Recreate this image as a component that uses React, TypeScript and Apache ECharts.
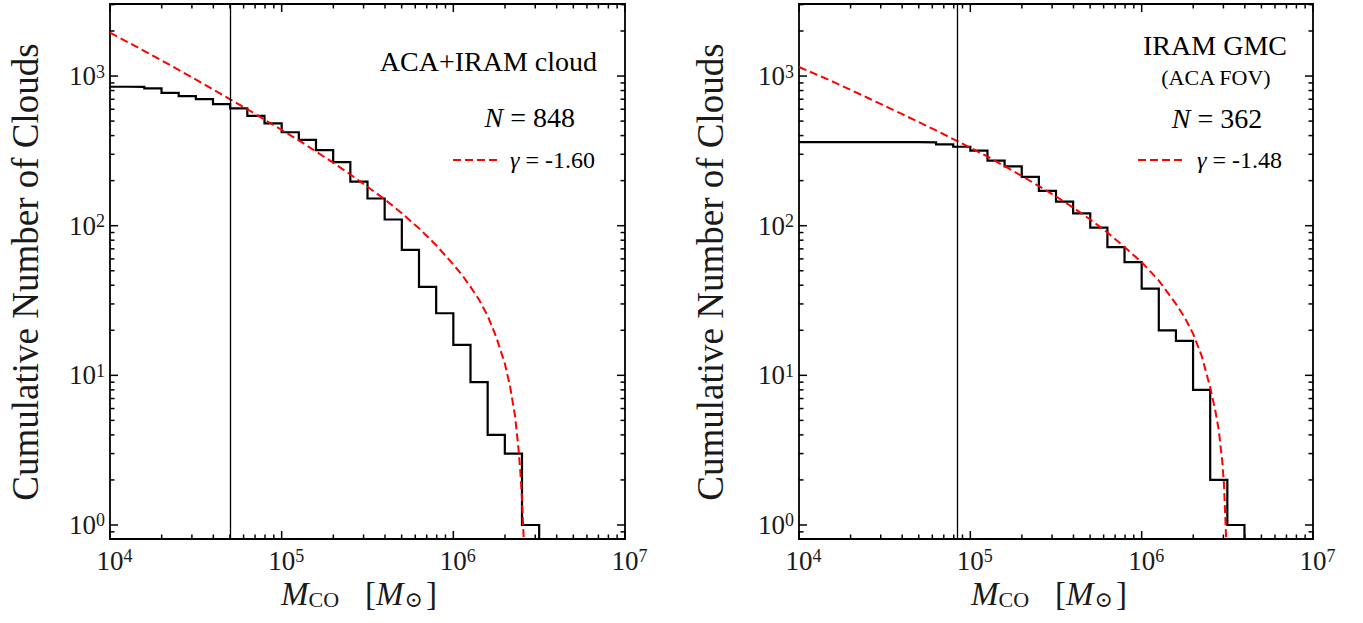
import React, { useEffect, useRef } from 'react';
import * as echarts from 'echarts';

const FONT = 'Liberation Serif, serif';
const SYMFONT = 'DejaVu Serif, DejaVu Sans, serif';
const TXT = '#1a1a1a';

// axis ranges
const xMin = 1e4;
const xMax = 1e7;
const yMin = 0.806;
const yMax = 3030;

// tick structure (decades)
const xMajorExp = [4, 5, 6, 7];
const yMajorExp = [0, 1, 2, 3];
const minorMult = [2, 3, 4, 5, 6, 7, 8, 9];

// Left panel: ACA+IRAM cloud, cumulative counts, bins of 0.1 dex (left edges, log10 M)
const leftBinLogM = [4.0, 4.1, 4.2, 4.3, 4.4, 4.5, 4.6, 4.7, 4.8, 4.9, 5.0, 5.1, 5.2, 5.3, 5.4, 5.5, 5.6, 5.7, 5.8, 5.9, 6.0, 6.1, 6.2, 6.3, 6.4];
const leftCounts = [848, 846, 828, 773, 735, 702, 650, 608, 541, 483, 421, 374, 320, 266, 197, 152, 110, 69, 39, 26, 16, 9, 4, 3, 1];
const leftBinEndLogM = 6.5;
const leftFitLogM = [4.0, 4.2, 4.4, 4.6, 4.8, 5.0, 5.1, 5.2, 5.3, 5.4, 5.5, 5.6, 5.7, 5.8, 5.9, 6.0, 6.05, 6.1, 6.15, 6.2, 6.25, 6.3, 6.33, 6.36, 6.38, 6.39, 6.4, 6.41, 6.415];
const leftFitN = [1950, 1470, 1100, 815, 600, 436, 372, 313, 264, 220, 182, 150, 121, 96, 74, 55, 47, 39, 32, 25, 18, 12, 8.5, 5.3, 3.2, 2.3, 1.5, 0.8, 0.5];
const leftCompleteness = 5.0e4;

// Right panel: IRAM GMC (ACA FOV)
const rightBinLogM = [4.0, 4.1, 4.2, 4.3, 4.4, 4.5, 4.6, 4.7, 4.8, 4.9, 5.0, 5.1, 5.2, 5.3, 5.4, 5.5, 5.6, 5.7, 5.8, 5.9, 6.0, 6.1, 6.2, 6.3, 6.4, 6.5];
const rightCounts = [362, 362, 362, 362, 362, 362, 362, 360, 349, 337, 317, 272, 249, 212, 171, 145, 121, 97, 72, 57, 38, 20, 17, 8, 2, 1];
const rightBinEndLogM = 6.6;
const rightFitLogM = [4.0, 4.2, 4.4, 4.6, 4.8, 5.0, 5.1, 5.2, 5.3, 5.4, 5.5, 5.6, 5.7, 5.8, 5.9, 6.0, 6.1, 6.2, 6.25, 6.3, 6.35, 6.4, 6.43, 6.45, 6.47, 6.48, 6.49, 6.5];
const rightFitN = [1150, 915, 716, 558, 433, 332, 290, 250, 215, 184, 157, 132, 110, 90, 72, 57, 43, 30, 24.5, 19, 13.5, 8.3, 5.8, 4.3, 2.7, 1.9, 1.0, 0.5];
const rightCompleteness = 8.4e4;

const DROP = 0.3; // below axis minimum: final vertical edge of histogram

function stepData(binLogM: number[], counts: number[], endLogM: number) {
  const pts: number[][] = binLogM.map((l, i) => [Math.pow(10, l), counts[i]]);
  pts.push([Math.pow(10, endLogM), counts[counts.length - 1]]);
  pts.push([Math.pow(10, endLogM), DROP]);
  return pts;
}
function fitData(logM: number[], n: number[]) {
  return logM.map((l, i) => [Math.pow(10, l), n[i]]);
}

function tickData() {
  const d: number[][] = [];
  xMajorExp.forEach((e) => d.push([Math.pow(10, e), 10, 0, 1]));
  xMajorExp.slice(0, -1).forEach((e) => minorMult.forEach((m) => d.push([m * Math.pow(10, e), 10, 0, 0])));
  yMajorExp.forEach((e) => d.push([1e5, Math.pow(10, e), 1, 1]));
  [-1, 0, 1, 2, 3].forEach((e) =>
    minorMult.forEach((m) => {
      const v = m * Math.pow(10, e);
      if (v > yMin && v < yMax) d.push([1e5, v, 1, 0]);
    })
  );
  return d;
}

function isPow(v: number) {
  const l = Math.log10(v);
  return Math.abs(l - Math.round(l)) < 1e-6;
}

const richY = {
  b: { fontSize: 27, fontFamily: FONT, color: TXT, lineHeight: 27 },
  s: { fontSize: 18, fontFamily: FONT, color: TXT, lineHeight: 18, verticalAlign: 'top' },
};
const richX = {
  p: { width: 9, fontSize: 10, fontFamily: FONT },
  b: { fontSize: 27, fontFamily: FONT, color: TXT, lineHeight: 27 },
  s: { fontSize: 18, fontFamily: FONT, color: TXT, lineHeight: 18, verticalAlign: 'top', padding: [0, 0, 20, 0] },
};

function makeOption() {
  const grids = [
    { left: 110, top: 4, width: 515, height: 535 },
    { left: 799, top: 4, width: 514, height: 535 },
  ];
  const ticks = tickData();

  const renderTick = (params: any, api: any) => {
    const cs = params.coordSys;
    const kind = api.value(2);
    const major = api.value(3);
    const len = major ? 8 : 4.5;
    const st = { stroke: '#000', lineWidth: 1.5 };
    if (kind === 0) {
      const px = api.coord([api.value(0), 10])[0];
      const b = cs.y + cs.height;
      return {
        type: 'group',
        children: [
          { type: 'line', shape: { x1: px, y1: b, x2: px, y2: b - len }, style: st },
          { type: 'line', shape: { x1: px, y1: cs.y, x2: px, y2: cs.y + len }, style: st },
        ],
      };
    }
    const py = api.coord([1e5, api.value(1)])[1];
    const r = cs.x + cs.width;
    return {
      type: 'group',
      children: [
        { type: 'line', shape: { x1: cs.x, y1: py, x2: cs.x + len, y2: py }, style: st },
        { type: 'line', shape: { x1: r, y1: py, x2: r - len, y2: py }, style: st },
      ],
    };
  };

  const panels = [
    { step: stepData(leftBinLogM, leftCounts, leftBinEndLogM), fit: fitData(leftFitLogM, leftFitN), comp: leftCompleteness },
    { step: stepData(rightBinLogM, rightCounts, rightBinEndLogM), fit: fitData(rightFitLogM, rightFitN), comp: rightCompleteness },
  ];

  const series: any[] = [];
  panels.forEach((p, i) => {
    series.push({
      type: 'line',
      xAxisIndex: i,
      yAxisIndex: i,
      data: p.step,
      step: 'end',
      symbol: 'none',
      clip: true,
      lineStyle: { color: '#000', width: 2.2, join: 'miter' },
      markLine: {
        silent: true,
        symbol: ['none', 'none'],
        label: { show: false },
        lineStyle: { color: '#000', width: 1.3, type: 'solid' },
        data: [{ xAxis: p.comp }],
      },
      z: 3,
    });
    series.push({
      type: 'line',
      xAxisIndex: i,
      yAxisIndex: i,
      data: p.fit,
      symbol: 'none',
      smooth: false,
      clip: true,
      lineStyle: { color: '#ff0000', width: 2, type: [8, 4] },
      z: 4,
    });
    series.push({
      type: 'custom',
      xAxisIndex: i,
      yAxisIndex: i,
      coordinateSystem: 'cartesian2d',
      data: ticks,
      renderItem: renderTick,
      silent: true,
      z: 5,
    });
  });

  const xTitleRich = {
    i: { fontFamily: FONT, fontStyle: 'italic', fontSize: 33, lineHeight: 33 },
    s: { fontFamily: FONT, fontSize: 22, lineHeight: 24, verticalAlign: 'bottom' },
    g: { width: 26, fontSize: 10, fontFamily: FONT },
    r: { fontFamily: FONT, fontSize: 33, lineHeight: 33 },
    o: { fontFamily: SYMFONT, fontSize: 22, lineHeight: 26, verticalAlign: 'bottom', padding: [0, 3, 0, 1] },
  };
  const xTitleText = '{i|M}{s|CO}{g| }{r|[}{i|M}{o|\u2299}{r|]}';

  const textEl = (x: number, y: number, text: string, size: number, align: string, rich?: any, extra?: any, fill?: string) => ({
    type: 'text',
    x,
    y,
    silent: true,
    ...(extra || {}),
    style: {
      text,
      fill: fill || '#000',
      font: `${size}px ${FONT}`,
      fontFamily: FONT,
      fontSize: size,
      align,
      verticalAlign: 'middle',
      rich,
    },
  });

  const richN = (size: number) => ({
    i: { fontFamily: FONT, fontStyle: 'italic', fontSize: size },
    r: { fontFamily: FONT, fontSize: size },
  });

  const graphic: any[] = [
    // axis titles
    textEl(25.5, 272, 'Cumulative Number of Clouds', 37, 'center', undefined, { rotation: Math.PI / 2 }, TXT),
    textEl(710, 272, 'Cumulative Number of Clouds', 37, 'center', undefined, { rotation: Math.PI / 2 }, TXT),
    textEl(359, 594, xTitleText, 33, 'center', xTitleRich, undefined, TXT),
    textEl(1049, 594, xTitleText, 33, 'center', xTitleRich, undefined, TXT),
    // left annotations
    textEl(597, 61, 'ACA+IRAM cloud', 28, 'right'),
    textEl(575, 117, '{i|N}{r| = 848}', 28, 'right', richN(28)),
    { type: 'line', silent: true, shape: { x1: 453, y1: 160, x2: 497, y2: 160 }, style: { stroke: '#ff0000', lineWidth: 2, lineDash: [8, 4] } },
    textEl(510, 160, '{i|\u03b3}{r| = -1.60}', 24, 'left', richN(24)),
    // right annotations
    textEl(1215, 45, 'IRAM GMC', 28, 'center'),
    textEl(1216, 77, '(ACA FOV)', 22, 'center'),
    textEl(1217, 118, '{i|N}{r| = 362}', 28, 'center', richN(28)),
    { type: 'line', silent: true, shape: { x1: 1138, y1: 160, x2: 1183, y2: 160 }, style: { stroke: '#ff0000', lineWidth: 2, lineDash: [8, 4] } },
    textEl(1197, 160, '{i|\u03b3}{r| = -1.48}', 24, 'left', richN(24)),
  ];

  return {
    animation: false,
    backgroundColor: '#ffffff',
    textStyle: { fontFamily: FONT },
    grid: grids.map((g) => ({
      ...g,
      show: true,
      borderColor: '#000',
      borderWidth: 1.8,
      backgroundColor: 'transparent',
      containLabel: false,
      outerBoundsMode: 'none',
    })),
    xAxis: grids.map((_, i) => ({
      type: 'log',
      logBase: 10,
      gridIndex: i,
      min: xMin,
      max: xMax,
      axisLine: { show: false },
      axisTick: { show: false },
      splitLine: { show: false },
      minorTick: { show: false },
      axisLabel: {
        show: true,
        interval: 0,
        showMinLabel: true,
        showMaxLabel: true,
        hideOverlap: false,
        margin: 8,
        fontFamily: FONT,
        formatter: (v: number) => (isPow(v) ? `{p| }{b|10}{s|${Math.round(Math.log10(v))}}` : ''),
        rich: richX,
      },
    })),
    yAxis: grids.map((_, i) => ({
      type: 'log',
      logBase: 10,
      gridIndex: i,
      min: yMin,
      max: yMax,
      axisLine: { show: false },
      axisTick: { show: false },
      splitLine: { show: false },
      minorTick: { show: false },
      axisLabel: {
        show: true,
        interval: 0,
        hideOverlap: false,
        margin: 5,
        fontFamily: FONT,
        formatter: (v: number) => (isPow(v) ? `{b|10}{s|${Math.round(Math.log10(v))}}` : ''),
        rich: richY,
      },
    })),
    series,
    graphic,
  };
}

export default function App() {
  const ref = useRef<HTMLDivElement>(null);
  useEffect(() => {
    document.body.style.margin = '0';
    if (!ref.current) return;
    const chart = echarts.init(ref.current, undefined, { renderer: 'svg' });
    chart.setOption(makeOption() as any);
    return () => chart.dispose();
  }, []);
  return <div ref={ref} style={{ position: 'fixed', left: 0, top: 0, width: 1363, height: 623, background: '#fff' }} />;
}
